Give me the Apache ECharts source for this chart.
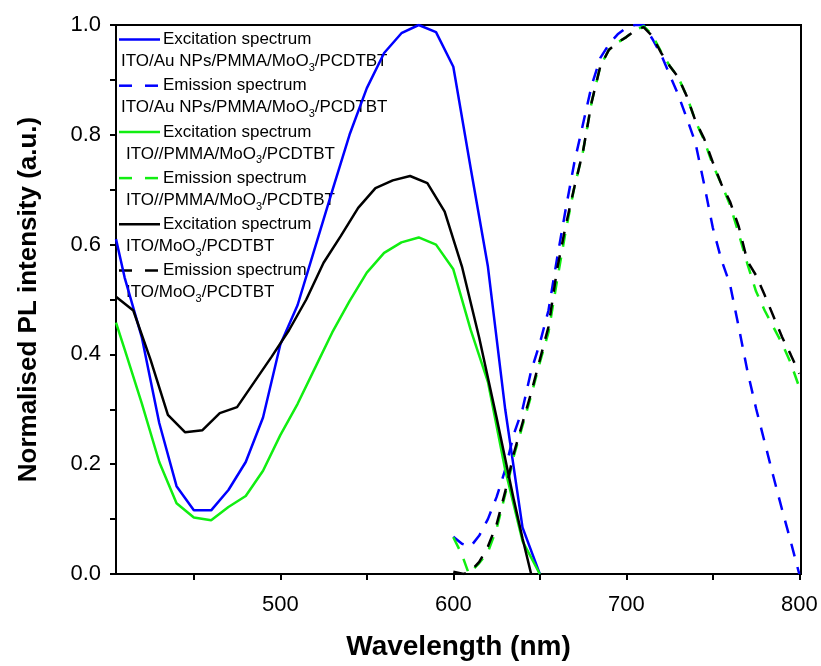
<!DOCTYPE html>
<html>
<head>
<meta charset="utf-8">
<script src="https://cdn.jsdelivr.net/npm/echarts@6/dist/echarts.min.js"></script>
<style>
html,body{margin:0;padding:0;background:#fff;}
#chart{width:821px;height:666px;}
</style>
</head>
<body>
<div id="chart"></div>
<script>
// ---- data ----
const blueExcX = [405,410,420,430,440,450,460,470,480,490,500,510,520,530,540,550,560,570,580,590,600,610,620,630,640,650];
const blueExcY = [0.61,0.54,0.43,0.275,0.16,0.116,0.116,0.153,0.204,0.285,0.418,0.49,0.594,0.698,0.80,0.885,0.949,0.985,1.0,0.987,0.924,0.74,0.56,0.30,0.085,0.0];

const greenExcX = [405,410,420,430,440,450,460,470,480,490,500,510,520,530,540,550,560,570,580,590,600,610,620,630,640,650];
const greenExcY = [0.458,0.409,0.31,0.204,0.129,0.103,0.098,0.122,0.142,0.188,0.253,0.31,0.375,0.44,0.497,0.549,0.585,0.604,0.613,0.6,0.555,0.445,0.35,0.19,0.06,0.0];

const blackExcX = [405,415,425,435,445,455,465,475,485,495,505,515,525,535,545,555,565,575,585,595,605,615,625,635,640,645];
const blackExcY = [0.505,0.48,0.39,0.29,0.258,0.262,0.293,0.304,0.35,0.396,0.444,0.50,0.567,0.616,0.667,0.703,0.717,0.725,0.712,0.66,0.56,0.43,0.285,0.135,0.065,0.0];

const blueEmX = [600,605,610,615,620,625,630,635,640,645,650,655,660,665,670,675,680,685,690,695,700,705,710,715,720,725,730,735,740,745,750,755,760,765,770,775,780,785,790,795,800];
const blueEmY = [0.068,0.055,0.05,0.07,0.1,0.14,0.19,0.255,0.3,0.37,0.42,0.48,0.575,0.665,0.75,0.82,0.89,0.94,0.965,0.983,0.995,1.0,1.0,0.975,0.947,0.91,0.873,0.83,0.785,0.71,0.631,0.572,0.527,0.45,0.37,0.302,0.24,0.178,0.118,0.06,0.0];

const greenEmX = [600,605,609,615,620,625,630,635,640,645,650,655,660,665,670,675,680,685,690,695,700,705,710,715,720,725,730,735,740,745,750,755,760,765,770,775,780,785,790,795,800];
const greenEmY = [0.067,0.035,0.0,0.02,0.04,0.082,0.145,0.215,0.27,0.325,0.385,0.44,0.535,0.625,0.705,0.77,0.86,0.925,0.955,0.968,0.978,0.99,0.998,0.982,0.952,0.926,0.905,0.87,0.825,0.79,0.745,0.71,0.672,0.62,0.565,0.515,0.48,0.45,0.42,0.385,0.34];

const blackEmX = [600,606,610,615,620,625,630,635,640,645,650,655,660,665,670,675,680,685,690,695,700,705,710,715,720,725,730,735,740,745,750,755,760,765,770,775,780,785,790,795,800];
const blackEmY = [0.004,0.0,0.005,0.022,0.05,0.09,0.15,0.22,0.275,0.33,0.39,0.45,0.555,0.635,0.705,0.77,0.86,0.925,0.955,0.968,0.978,0.99,0.996,0.98,0.95,0.926,0.905,0.87,0.825,0.793,0.75,0.71,0.678,0.633,0.57,0.544,0.508,0.47,0.432,0.40,0.365];

const xTickValues = [450,500,550,600,650,700,750,800];
const xLabelValues = [500,600,700,800];

const legendFirst = ['Excitation spectrum','Emission spectrum','Excitation spectrum','Emission spectrum','Excitation spectrum','Emission spectrum'];
const legendSecond = [
  ['ITO/Au NPs/PMMA/MoO','3','/PCDTBT'],
  ['ITO/Au NPs/PMMA/MoO','3','/PCDTBT'],
  ['ITO//PMMA/MoO','3','/PCDTBT'],
  ['ITO//PMMA/MoO','3','/PCDTBT'],
  ['ITO/MoO','3','/PCDTBT'],
  ['ITO/MoO','3','/PCDTBT']
];

// ---- chart ----
const FONT = '"Liberation Sans", Arial, sans-serif';
const BLUE = '#0000ff', GREEN = '#11ee11', BLACK = '#000000';
const DASH = [13, 11];

function zip(xs, ys){ return xs.map((x,i)=>[x, ys[i]]); }

const seriesDefs = [
  {x: blueExcX, y: blueExcY, color: BLUE, dash: 'solid'},
  {x: blueEmX, y: blueEmY, color: BLUE, dash: DASH},
  {x: greenExcX, y: greenExcY, color: GREEN, dash: 'solid'},
  {x: greenEmX, y: greenEmY, color: GREEN, dash: DASH},
  {x: blackExcX, y: blackExcY, color: BLACK, dash: 'solid'},
  {x: blackEmX, y: blackEmY, color: BLACK, dash: DASH}
];

const series = seriesDefs.map((d, i) => ({
  type: 'line',
  data: zip(d.x, d.y),
  showSymbol: false,
  symbol: 'none',
  animation: false,
  lineStyle: {color: d.color, width: 2.5, type: d.dash, cap: 'butt'},
  z: 2
}));

// legend drawn as graphic text/lines
const graphics = [];
const legX = 119, legY0 = 39.5, legStep = 46.2;
seriesDefs.forEach((d, i) => {
  const y = legY0 + i * legStep;
  graphics.push({
    type: 'line', silent: true,
    shape: {x1: legX, y1: y, x2: legX + 41, y2: y},
    style: {stroke: d.color, lineWidth: 2.5, lineDash: Array.isArray(d.dash) ? [13, 13] : null}
  });
  graphics.push({
    type: 'text', silent: true, x: 163, y: y,
    style: {text: legendFirst[i], fontSize: 17, fontFamily: FONT, fill: '#000', verticalAlign: 'middle', align: 'left'}
  });
  const s = legendSecond[i];
  graphics.push({
    type: 'text', silent: true, x: (i < 2 ? 121 : 126), y: y + 22,
    style: {
      text: '{a|' + s[0] + '}{s|' + s[1] + '}{a|' + s[2] + '}',
      fontFamily: FONT, fill: '#000', verticalAlign: 'middle', align: 'left',
      rich: {
        a: {fontSize: 17, fontFamily: FONT, lineHeight: 24, verticalAlign: 'middle', fill: '#000'},
        s: {fontSize: 11, fontFamily: FONT, lineHeight: 11, verticalAlign: 'bottom', fill: '#000'}
      }
    }
  });
});

const chart = echarts.init(document.getElementById('chart'), null, {renderer: 'canvas'});
chart.setOption({
  animation: false,
  backgroundColor: '#fff',
  grid: {left: 116, right: 20, top: 25, bottom: 91, show: true, borderColor: '#000', borderWidth: 2, backgroundColor: 'transparent'},
  xAxis: {
    type: 'value', min: 405, max: 801,
    name: 'Wavelength (nm)', nameLocation: 'middle', nameGap: 59,
    nameTextStyle: {fontSize: 28, fontWeight: 'bold', fontFamily: FONT, color: '#000'},
    axisLine: {show: true, onZero: false, lineStyle: {color: '#000', width: 2}},
    axisTick: {show: true, inside: false, length: 6, lineStyle: {color: '#000', width: 2}, customValues: xTickValues},
    axisLabel: {show: true, margin: 20, fontSize: 22, fontFamily: FONT, color: '#000', customValues: xLabelValues},
    splitLine: {show: false}
  },
  yAxis: {
    type: 'value', min: 0, max: 1, interval: 0.2,
    name: 'Normalised PL intensity (a.u.)', nameLocation: 'middle', nameGap: 74,
    nameTextStyle: {fontSize: 26, fontWeight: 'bold', fontFamily: FONT, color: '#000'},
    axisLine: {show: true, onZero: false, lineStyle: {color: '#000', width: 2}},
    axisTick: {show: true, inside: false, length: 6, lineStyle: {color: '#000', width: 2}},
    minorTick: {show: true, splitNumber: 2, length: 6, lineStyle: {color: '#000', width: 2}},
    axisLabel: {show: true, margin: 15, fontSize: 22, fontFamily: FONT, color: '#000', formatter: v => v.toFixed(1)},
    splitLine: {show: false}
  },
  series: series,
  graphic: graphics
});
</script>
</body>
</html>
